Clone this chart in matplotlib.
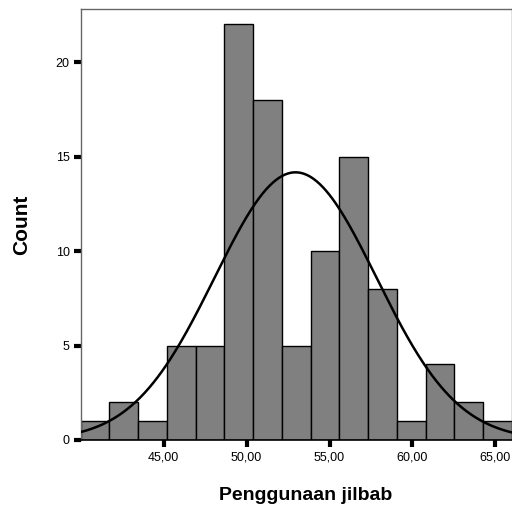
import numpy as np
import matplotlib.pyplot as plt

plt.rcParams['font.family'] = ['Liberation Sans', 'DejaVu Sans']

# histogram of "Penggunaan jilbab" (N = 100)
bin_start = 40.0
bin_end = 66.0
counts = [1, 2, 1, 5, 5, 22, 18, 5, 10, 15, 8, 1, 4, 2, 1]
# normal curve parameters
mean = 52.95
std = 4.88

xticks = [45, 50, 55, 60, 65]
yticks = [0, 5, 10, 15, 20]

n = sum(counts)
edges = np.linspace(bin_start, bin_end, len(counts) + 1)
width = edges[1] - edges[0]

fig = plt.figure(figsize=(5.12, 5.09), dpi=100)
ax = fig.add_axes([0.1576, 0.1356, 0.8424, 0.8461])

ax.bar(edges[:-1], counts, width=width, align="edge",
       color="#808080", edgecolor="black", linewidth=1.0, zorder=2)

xs = np.linspace(bin_start, bin_end, 400)
ys = n * width / (std * np.sqrt(2 * np.pi)) * np.exp(-0.5 * ((xs - mean) / std) ** 2)
ax.plot(xs, ys, color="black", linewidth=1.8, zorder=3)

ax.set_xlim(bin_start, bin_end)
ax.set_ylim(0, 22.8)
ax.set_xticks(xticks)
ax.set_xticklabels([f"{v:.2f}".replace(".", ",") for v in xticks])
ax.set_yticks(yticks)
ax.tick_params(direction="out", length=5, width=3, labelsize=9, color="black", pad=3)

for side in ["left", "top", "right"]:
    ax.spines[side].set_color("#666666")
    ax.spines[side].set_linewidth(1.0)
ax.spines["bottom"].set_color("black")
ax.spines["bottom"].set_linewidth(1.2)

ax.set_xlabel("Penggunaan jilbab", fontsize=14, fontweight="bold", va="center")
ax.xaxis.set_label_coords(0.522, -0.128)
ax.set_ylabel("Count", fontsize=15, fontweight="bold", va="center")
ax.yaxis.set_label_coords(-0.138, 0.50)

fig.savefig("out.png", dpi=100)
